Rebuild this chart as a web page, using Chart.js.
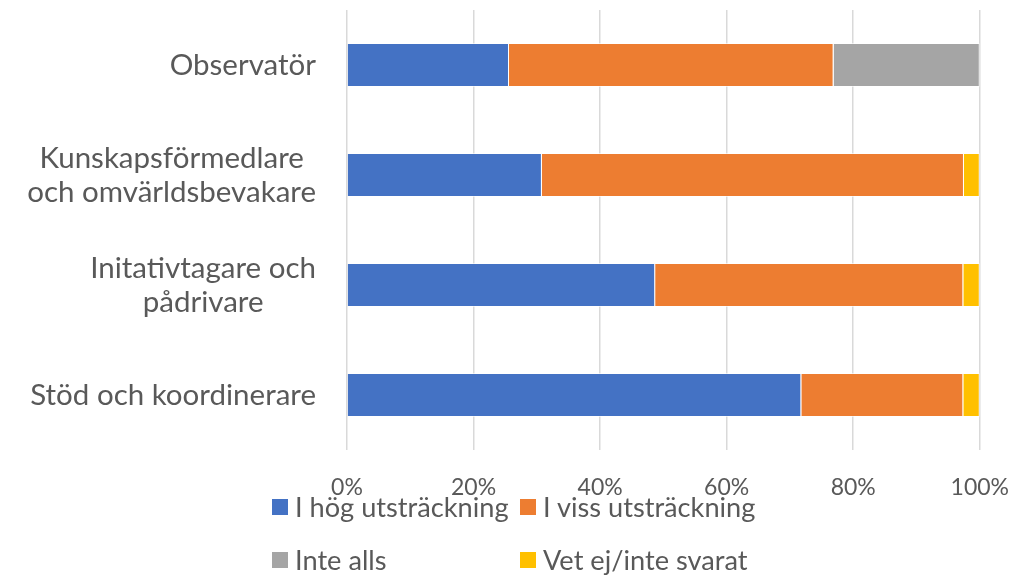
<!DOCTYPE html>
<html lang="sv">
  <head>
    <meta charset="UTF-8">
    <title>Roller</title>
    <script src="https://cdn.jsdelivr.net/npm/chart.js"></script>
    <style>
      body{margin: 0; background: #fff;}
      #wrap{position: relative; width: 1033px; height: 577px;}
      #legend{position: absolute; left: 272px; top: 480px; display: grid;
        grid-template-columns: 248px 280px; grid-auto-rows: 53px;
        font-family: Lato, sans-serif; font-size: 27.2px; color: #595959;}
      #legend div{display: flex; align-items: center; white-space: nowrap;}
      #legend span.box{width: 16px; height: 16px; margin-right: 7px; display: inline-block; flex: none;}
    </style>
  </head>
  <body>
    <div id="wrap">
      <canvas id="myChart" width="1033" height="577"></canvas>
      <div id="legend"></div>
    </div>
    <script>
      // data
      const categories = [
        ['Observatör'],
        ['Kunskapsförmedlare', 'och omvärldsbevakare'],
        ['Initativtagare och', 'pådrivare'],
        ['Stöd och koordinerare']
      ];
      const seriesNames = ['I hög utsträckning', 'I viss utsträckning', 'Inte alls', 'Vet ej/inte svarat'];
      const hog = [25.6, 30.8, 48.7, 71.8];
      const viss = [51.3, 66.7, 48.7, 25.6];
      const inteAlls = [23.1, 0, 0, 0];
      const vetEj = [0, 2.5, 2.6, 2.6];
      const xTicks = [0, 20, 40, 60, 80, 100];

      const colors = ['#4472C4', '#ED7D31', '#A5A5A5', '#FFC000'];
      const values = [hog, viss, inteAlls, vetEj];
      const textColor = '#595959';

      // y labels: lines centered inside a right-aligned block (like Excel)
      const yLabelPlugin = {
        id: 'yLabels',
        afterDraw(chart){
          const ctx = chart.ctx;
          const y = chart.scales.y;
          const right = y.right - 31;
          const lh = 34;
          ctx.save();
          ctx.font = '29.5px Lato';
          ctx.fillStyle = textColor;
          ctx.textAlign = 'center';
          ctx.textBaseline = 'middle';
          categories.forEach((lines, i) => {
            const cy = y.getPixelForValue(i);
            const w = Math.max(...lines.map(l => ctx.measureText(l).width));
            const cx = right - w / 2;
            lines.forEach((l, j) => {
              ctx.fillText(l, cx, cy + (j - (lines.length - 1) / 2) * lh);
            });
          });
          ctx.restore();
        }
      };

      new Chart(document.getElementById('myChart'), {
        type: 'bar',
        data: {
          labels: categories,
          datasets: seriesNames.map((name, i) => ({
            label: name,
            data: values[i],
            backgroundColor: colors[i],
            borderColor: 'rgba(255,255,255,0.6)',
            borderWidth: 1,
            barPercentage: 0.4,
            categoryPercentage: 1
          }))
        },
        options: {
          indexAxis: 'y',
          responsive: false,
          animation: false,
          layout: {padding: {top: 10, right: 26, bottom: 0, left: 0}},
          plugins: {legend: {display: false}, tooltip: {enabled: false}},
          scales: {
            x: {
              stacked: true,
              min: 0,
              max: 100,
              afterBuildTicks: s => { s.ticks = xTicks.map(v => ({value: v})); },
              grid: {color: '#D9D9D9', lineWidth: 1.5, drawTicks: false},
              border: {display: false},
              ticks: {
                color: textColor,
                font: {family: 'Lato', size: 23},
                padding: 24,
                callback: v => v + '%'
              },
              afterFit: s => { s.height = 127; }
            },
            y: {
              stacked: true,
              grid: {display: false},
              border: {display: false},
              ticks: {color: 'transparent', font: {family: 'Lato', size: 1}},
              afterFit: s => { s.width = 347; }
            }
          }
        },
        plugins: [yLabelPlugin]
      });

      // html legend
      const legend = document.getElementById('legend');
      seriesNames.forEach((name, i) => {
        const d = document.createElement('div');
        d.innerHTML = '<span class="box" style="background:' + colors[i] + '"></span>' + name;
        legend.appendChild(d);
      });
    </script>
  </body>
</html>
